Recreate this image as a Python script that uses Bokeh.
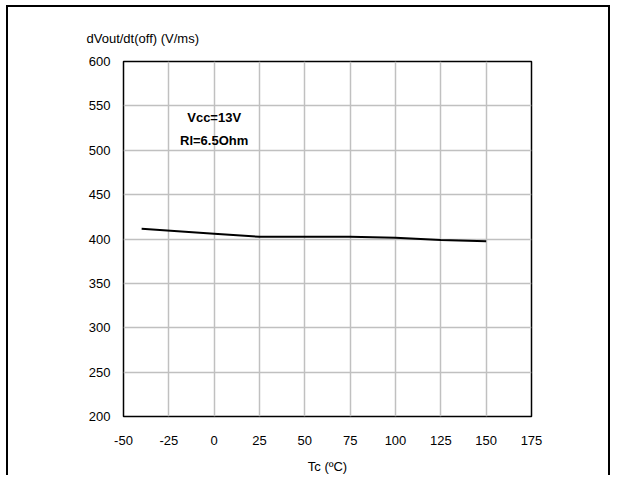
from bokeh.plotting import figure
from bokeh.models import Label, FixedTicker, Range1d
from bokeh.embed import file_html
from bokeh.resources import INLINE

# Data
tc = [-40, 0, 25, 75, 100, 125, 150]
dvdt = [411.5, 406, 402.5, 402.5, 401.5, 399, 397.5]
x_ticks = [-50, -25, 0, 25, 50, 75, 100, 125, 150, 175]
y_ticks = [200, 250, 300, 350, 400, 450, 500, 550, 600]

FONT = "Liberation Sans"

p = figure(width=604, height=470, output_backend="svg", toolbar_location=None,
           x_range=Range1d(-50, 175), y_range=Range1d(200, 600),
           min_border_left=115, min_border_right=81, min_border_top=54, min_border_bottom=61,
           title="dVout/dt(off) (V/ms)",
           styles={"margin-left": "6px", "margin-top": "5px",
                   "border-left": "2px solid black", "border-top": "2px solid black",
                   "border-right": "2px solid black"})

p.title.text_font = FONT
p.title.text_font_size = "13px"
p.title.text_font_style = "normal"
p.title.text_color = "black"
p.title.align = "left"
p.title.offset = -37
p.title.standoff = 31

p.outline_line_color = "black"
p.outline_line_width = 1.5

p.xaxis.ticker = FixedTicker(ticks=x_ticks)
p.yaxis.ticker = FixedTicker(ticks=y_ticks)
p.xaxis.major_label_overrides = {t: str(t) for t in x_ticks}
for ax in (p.xaxis[0], p.yaxis[0]):
    ax.axis_line_color = None
    ax.major_tick_line_color = None
    ax.minor_tick_line_color = None
    ax.major_label_text_font = FONT
    ax.major_label_text_font_size = "13px"
    ax.major_label_text_color = "black"
p.xaxis.major_label_standoff = 13
p.yaxis.major_label_standoff = 7
p.xaxis.axis_label = "Tc (ºC)"
p.xaxis.axis_label_text_font = FONT
p.xaxis.axis_label_text_font_size = "13px"
p.xaxis.axis_label_text_font_style = "normal"
p.xaxis.axis_label_text_color = "black"
p.xaxis.axis_label_standoff = 11

p.xgrid.grid_line_color = "#c0c0c0"
p.ygrid.grid_line_color = "#c0c0c0"
p.xgrid.grid_line_width = 1.5
p.ygrid.grid_line_width = 1.5

p.line(tc, dvdt, line_color="black", line_width=2)

p.add_layout(Label(x=0, y=537, text="Vcc=13V", text_font=FONT, text_font_style="bold",
                   text_font_size="13px", text_baseline="middle", text_align="center",
                   text_color="black"))
p.add_layout(Label(x=0, y=511, text="Rl=6.5Ohm", text_font=FONT, text_font_style="bold",
                   text_font_size="13px", text_baseline="middle", text_align="center",
                   text_color="black"))

open("out.html", "w").write(file_html(p, INLINE))
